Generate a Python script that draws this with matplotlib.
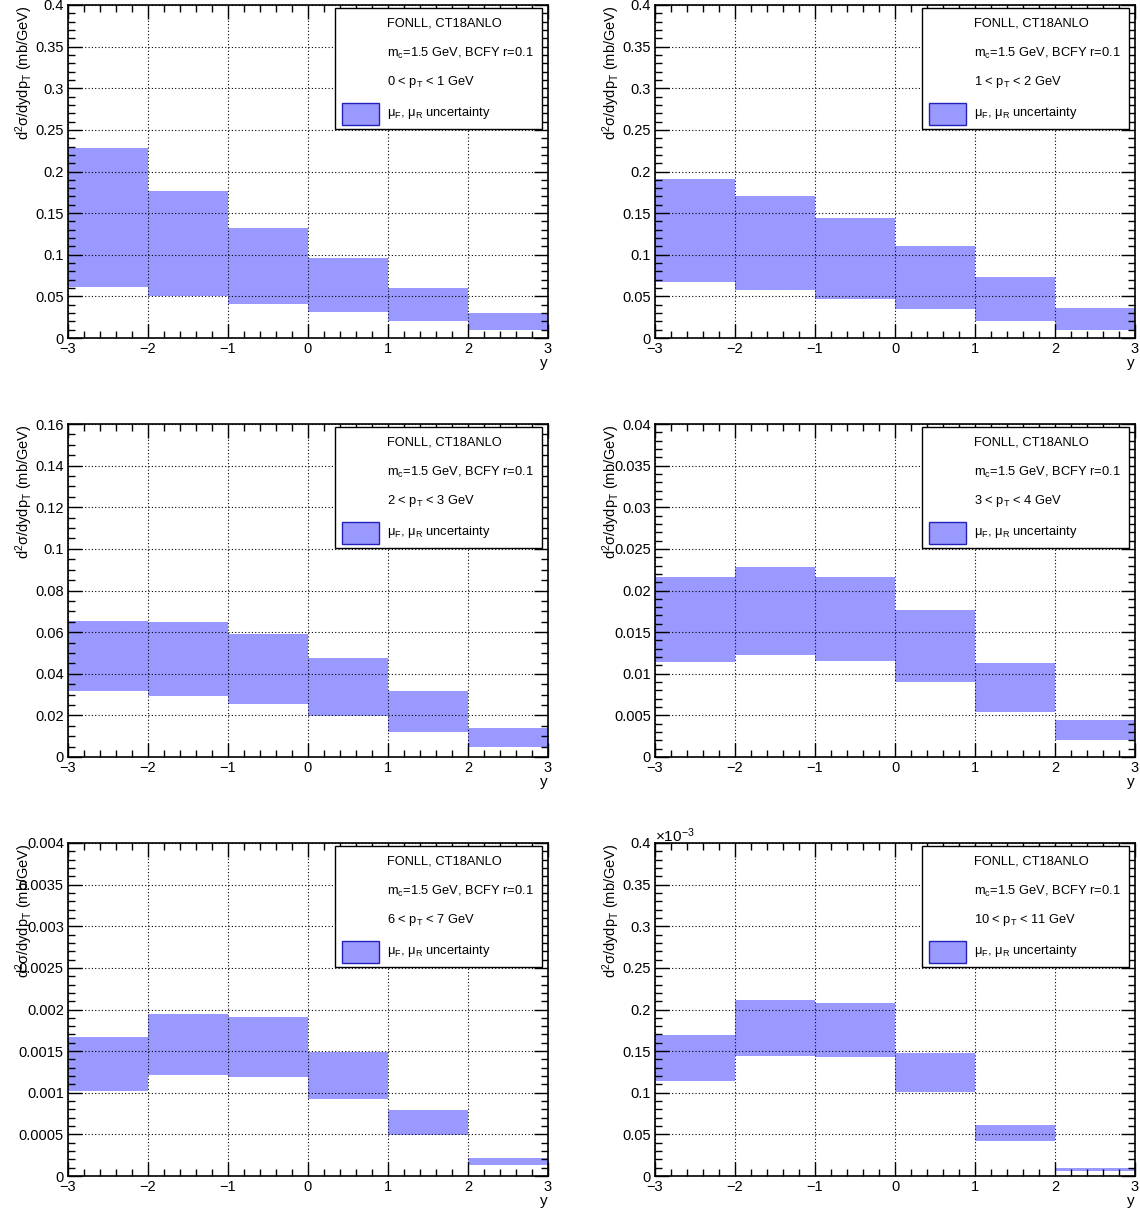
import numpy as np
import matplotlib.pyplot as plt
from matplotlib.patches import Rectangle
from matplotlib.ticker import MultipleLocator, FuncFormatter

plt.rcParams['font.family'] = ['Liberation Sans', 'DejaVu Sans']
plt.rcParams['mathtext.fontset'] = 'custom'
plt.rcParams['mathtext.rm'] = 'Liberation Sans'
plt.rcParams['mathtext.it'] = 'Liberation Sans:italic'
plt.rcParams['mathtext.bf'] = 'Liberation Sans:bold'
plt.rcParams['mathtext.default'] = 'regular'

# rapidity bin edges
y_edges = [-3, -2, -1, 0, 1, 2, 3]

# pT bin labels for each panel
pt_labels = ['0 < p$_{T}$ < 1 GeV', '1 < p$_{T}$ < 2 GeV', '2 < p$_{T}$ < 3 GeV',
             '3 < p$_{T}$ < 4 GeV', '6 < p$_{T}$ < 7 GeV', '10 < p$_{T}$ < 11 GeV']

# upper / lower edge of the mu_F, mu_R band (mb/GeV)
band_hi = [
    [0.2278, 0.176, 0.1327, 0.0958, 0.0606, 0.0305],
    [0.1905, 0.170, 0.1436, 0.111, 0.0738, 0.0365],
    [0.0652, 0.0647, 0.0589, 0.0478, 0.0315, 0.0141],
    [0.0216, 0.0228, 0.0216, 0.01762, 0.01124, 0.0045],
    [0.00167, 0.00195, 0.00191, 0.00149, 0.00079, 0.000213],
    [0.0001693, 0.0002114, 0.0002078, 0.0001476, 0.000061, 0.0000092],
]
band_lo = [
    [0.061, 0.051, 0.0413, 0.0317, 0.0209, 0.010],
    [0.067, 0.0574, 0.0465, 0.0345, 0.0209, 0.010],
    [0.0315, 0.0295, 0.0257, 0.0196, 0.0122, 0.005],
    [0.01136, 0.0122, 0.01148, 0.00895, 0.00546, 0.00209],
    [0.00102, 0.00121, 0.00119, 0.00092, 0.000498, 0.000128],
    [0.000114, 0.000144, 0.0001428, 0.0001007, 0.0000417, 0.000006],
]

# y axis ranges and tick steps
y_max = [0.4, 0.4, 0.16, 0.04, 0.004, 0.4]
y_major = [0.05, 0.05, 0.02, 0.005, 0.0005, 0.05]
y_minor = [0.01, 0.01, 0.005, 0.001, 0.0001, 0.01]
y_scale = [1, 1, 1, 1, 1, 1e-3]

fill_col = '#9999ff'

fig = plt.figure(figsize=(11.4, 12.11), dpi=100)
W, H = 1140, 1211
col_x = [68, 655]
row_top = [5, 424, 843]
ax_w, ax_h = 480, 333

for i in range(6):
    r, c = divmod(i, 2)
    ax = fig.add_axes([col_x[c] / W, 1 - (row_top[r] + ax_h) / H, ax_w / W, ax_h / H])
    s = y_scale[i]
    lo = np.array(band_lo[i]) / s
    hi = np.array(band_hi[i]) / s
    ax.bar(y_edges[:-1], hi - lo, bottom=lo, width=1, align='edge',
           color=fill_col, edgecolor='none', zorder=1)

    ax.set_xlim(-3, 3)
    ax.set_ylim(0, y_max[i])
    ax.xaxis.set_major_locator(MultipleLocator(1))
    ax.xaxis.set_minor_locator(MultipleLocator(0.2))
    ax.yaxis.set_major_locator(MultipleLocator(y_major[i]))
    ax.yaxis.set_minor_locator(MultipleLocator(y_minor[i]))
    ax.yaxis.set_major_formatter(FuncFormatter(lambda v, _: f'{v:.6g}'))
    ax.xaxis.set_major_formatter(FuncFormatter(lambda v, _: f'{v:g}'.replace('-', '\u2212')))
    ax.tick_params(which='both', direction='in', top=True, right=True,
                   labelsize=10.5, width=1)
    ax.tick_params(which='major', length=10, pad=3)
    ax.tick_params(which='minor', length=5)
    ax.grid(True, which='major', linestyle=(0, (1, 2)), color='black', linewidth=0.8, zorder=3)
    ax.set_axisbelow(False)
    for sp in ax.spines.values():
        sp.set_linewidth(1.2)

    ax.set_ylabel('d$^{2}$σ/dydp$_{T}$ (mb/GeV)', loc='top', fontsize=10.5)
    ax.yaxis.set_label_coords(-0.068, 1)
    ax.set_xlabel('y', loc='right', fontsize=11)
    ax.xaxis.set_label_coords(1, -0.055)
    if s != 1:
        ax.text(0, 0.995, r'$\times$10$^{-3}$', transform=ax.transAxes,
                ha='left', va='bottom', fontsize=11)

    # legend box in ROOT style
    ax.add_patch(Rectangle((0.556, 0.628), 0.4315, 0.363, transform=ax.transAxes,
                           facecolor='white', edgecolor='black', linewidth=1, zorder=5))
    tx = 0.665
    ax.text(tx, 0.943, 'FONLL, CT18ANLO', transform=ax.transAxes,
            va='center', fontsize=9.3, zorder=6)
    ax.text(tx, 0.856, 'm$_{c}$=1.5 GeV, BCFY r=0.1', transform=ax.transAxes,
            va='center', fontsize=9.3, zorder=6)
    ax.text(tx, 0.769, pt_labels[i], transform=ax.transAxes,
            va='center', fontsize=9.3, zorder=6)
    ax.add_patch(Rectangle((0.571, 0.640), 0.077, 0.066, transform=ax.transAxes,
                           facecolor=fill_col, edgecolor='#2222bb', linewidth=1, zorder=6))
    ax.text(tx, 0.676, 'μ$_{F}$, μ$_{R}$ uncertainty', transform=ax.transAxes,
            va='center', fontsize=9.3, zorder=6)

fig.savefig('out.png', dpi=100)
